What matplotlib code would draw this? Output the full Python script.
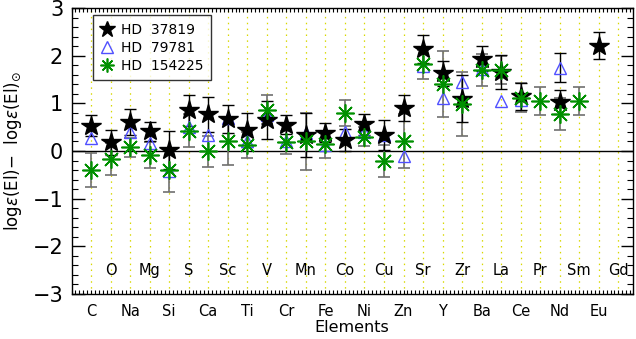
import numpy as np
import matplotlib
matplotlib.use("Agg")
import matplotlib.pyplot as plt
from matplotlib.lines import Line2D
from matplotlib.ticker import MultipleLocator

nan = np.nan
elements = ["C", "O", "Na", "Mg", "Si", "S", "Ca", "Sc", "Ti", "V", "Cr", "Mn", "Fe", "Co",
            "Ni", "Cu", "Zn", "Sr", "Y", "Zr", "Ba", "La", "Ce", "Pr", "Nd", "Sm", "Eu", "Gd"]

hd37819 = [0.53, 0.18, 0.61, 0.41, 0.02, 0.85, 0.77, 0.67, 0.44, 0.65, 0.55, 0.34, 0.38, 0.23,
           0.56, 0.34, 0.90, 2.14, 1.63, 1.10, 1.94, 1.66, 1.15, nan, 1.03, nan, 2.21, nan]
hd37819_err = [0.22, 0.27, 0.27, 0.20, 0.40, 0.33, 0.37, 0.29, 0.35, 0.40, 0.20, 0.46, 0.20, 0.24,
               0.22, 0.31, 0.27, 0.29, 0.26, 0.50, 0.27, 0.35, 0.28, nan, 0.25, nan, 0.28, nan]

hd79781 = [0.27, nan, 0.40, 0.16, -0.43, 0.51, 0.34, 0.69, 0.21, 0.75, 0.21, 0.37, 0.13, 0.39,
           0.39, 0.34, -0.10, 1.78, 1.12, 1.45, 1.73, 1.05, 1.08, nan, 1.75, nan, nan, nan]
hd79781_err = [nan, nan, nan, nan, nan, nan, nan, nan, nan, nan, nan, nan, nan, nan,
               nan, nan, nan, nan, nan, nan, nan, nan, nan, nan, 0.30, nan, nan, nan]

hd154225 = [-0.40, -0.17, 0.08, -0.08, -0.40, 0.43, -0.01, 0.20, 0.13, 0.87, 0.18, 0.20, 0.14, 0.80,
            0.30, -0.21, 0.21, 1.82, 1.40, 0.98, 1.70, 1.70, 1.12, 1.05, 0.78, 1.05, nan, nan]
hd154225_err = [0.35, 0.33, 0.20, 0.27, 0.47, 0.35, 0.32, 0.50, 0.27, 0.30, 0.25, 0.60, 0.28, 0.27,
                0.20, 0.33, 0.57, 0.30, 0.69, 0.67, 0.33, 0.30, 0.30, 0.30, 0.33, 0.30, nan, nan]

series_names = ["HD  37819", "HD  79781", "HD  154225"]

plt.rcParams['font.family'] = ['DejaVu Sans']
fig = plt.figure(figsize=(6.36, 3.39), dpi=100)
ax = fig.add_axes([71.5/636, 45/339, 561.5/636, 286/339])

x = np.arange(1, len(elements) + 1)

# vertical dotted guide lines
for xi in x:
    ax.axvline(xi, color='#d8d800', lw=0.9, ls=(0, (1.2, 3.5)), zorder=0)
ax.axhline(0, color='black', lw=1.0, zorder=1)

green = '#009000'
blue = '#5050ff'

ax.errorbar(x, hd154225, yerr=hd154225_err, fmt='none', ecolor='#707070', elinewidth=1.2,
            capsize=4, capthick=1.2, zorder=2)
ax.errorbar(x, hd79781, yerr=hd79781_err, fmt='none', ecolor='black', elinewidth=1.0,
            capsize=4, capthick=1.0, zorder=2)
ax.errorbar(x, hd37819, yerr=hd37819_err, fmt='none', ecolor='black', elinewidth=1.0,
            capsize=4, capthick=1.0, zorder=2)

ax.plot(x, hd79781, ls='none', marker='^', ms=9, mfc='none', mec=blue, mew=1.0, zorder=3)
ax.plot(x, hd37819, ls='none', marker='*', ms=15, color='black', zorder=4)
ax.plot(x, hd154225, ls='none', marker=(8, 2, 0), ms=13, color=green, mew=1.2, zorder=5)

ax.set_xlim(0, 28.75)
ax.set_ylim(-3, 3)

# tick styling
ax.yaxis.set_major_locator(MultipleLocator(1))
ax.yaxis.set_minor_locator(MultipleLocator(0.2))
ax.xaxis.set_major_locator(MultipleLocator(1))
ax.xaxis.set_minor_locator(MultipleLocator(0.2))
ax.tick_params(axis='y', which='major', direction='in', length=9, width=1, left=True, right=True,
               labelsize=15, pad=6)
ax.tick_params(axis='y', which='minor', direction='in', length=4.5, width=0.8, left=True, right=True)
ax.tick_params(axis='x', which='major', direction='in', length=3, width=0.8, top=True, bottom=True,
               labelbottom=False)
ax.tick_params(axis='x', which='minor', direction='in', length=3, width=0.8, top=True, bottom=True)
ax.set_yticks([-3, -2, -1, 0, 1, 2, 3])
ax.set_yticklabels(['\u22123', '\u22122', '\u22121', '0', '1', '2', '3'])

# element labels: odd positions below axis, even positions inside
for xi, el in zip(x, elements):
    if xi % 2 == 1:
        ax.text(xi, -3.2, el, ha='center', va='top', fontsize=10.5)
    else:
        ax.text(xi, -2.5, el, ha='center', va='center', fontsize=10.5)

for sp in ax.spines.values():
    sp.set_linewidth(1.0)

ax.set_xlabel('Elements', fontsize=11.5, labelpad=15)
ax.set_ylabel(r'log$\epsilon$(El)$-$  log$\epsilon$(El)$_{\odot}$', fontsize=12, labelpad=6)

handles = [
    Line2D([], [], ls='none', marker='*', ms=12, color='black'),
    Line2D([], [], ls='none', marker='^', ms=8, mfc='none', mec=blue, mew=1.0),
    Line2D([], [], ls='none', marker=(8, 2, 0), ms=10, color=green, mew=1.2),
]
leg = ax.legend(handles, series_names, loc='upper left', bbox_to_anchor=(0.038, 0.976),
                borderaxespad=0, fontsize=10, frameon=True, fancybox=False, handlelength=1.0,
                handletextpad=0.5, labelspacing=0.3, borderpad=0.55)
leg.get_frame().set_edgecolor('black')
leg.get_frame().set_linewidth(1.0)

fig.savefig('out.png', dpi=100)
